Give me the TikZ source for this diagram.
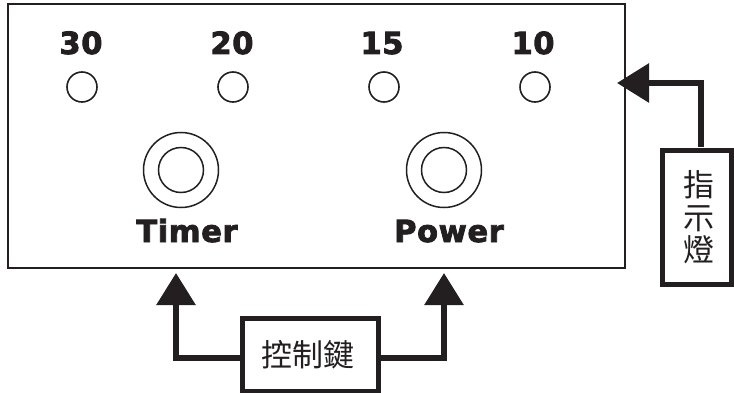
\documentclass[tikz,border=0pt]{standalone}
\usepackage{fontspec}
\setmainfont{DejaVu Sans}
\newfontfamily\cjkfont{Noto Sans CJK TC}
\newfontfamily\lblfont[LetterSpace=2,FakeBold=2.6]{DejaVu Sans Bold}
\usetikzlibrary{arrows.meta}
\definecolor{ink}{HTML}{231F20}
\tikzset{
  panel/.style={draw=ink,line width=2pt,minimum width=617pt,minimum height=264pt,inner sep=0pt,outer sep=0pt},
  lamp/.style={circle,draw=ink,line width=1.6pt,minimum size=30pt,inner sep=0pt,outer sep=0pt},
  knobout/.style={circle,draw=ink,line width=1.5pt,minimum size=75pt,inner sep=0pt,outer sep=0pt},
  knobin/.style={circle,draw=ink,line width=1.5pt,minimum size=45pt,inner sep=0pt,outer sep=0pt},
  numlabel/.style={anchor=base,inner sep=0pt,text=ink,font=\lblfont\fontsize{30.5}{30}\selectfont},
  calloutbox/.style={draw=ink,line width=4.5pt,inner sep=0pt,outer sep=0pt,align=center,text=ink,font=\cjkfont\fontsize{31}{32.5}\selectfont},
  link/.style={draw=ink,line width=6pt,-{Triangle[length=32pt,width=38pt,color=ink]}},
}
\begin{document}
\begin{tikzpicture}[x=1pt,y=-1pt]
\useasboundingbox (0,0) rectangle (734,393);
\node[panel] (front) at (316.5,136) {};
\node[numlabel] (n30) at (81,54) {30};
\node[numlabel] (n20) at (232,54) {20};
\node[numlabel] (n15) at (382,54) {15};
\node[numlabel] (n10) at (533,54) {10};
\node[lamp] (l30) at (82,87) {};
\node[lamp] (l20) at (233,87) {};
\node[lamp] (l15) at (384,87) {};
\node[lamp] (l10) at (535,87) {};
\node[knobout] (timerout) at (181,170) {};
\node[knobin] (timerin) at (181,170) {};
\node[knobout] (powerout) at (444,170) {};
\node[knobin] (powerin) at (444,170) {};
\node[numlabel] (timer) at (187,242) {Timer};
\node[numlabel] (power) at (449,242) {Power};
\node[calloutbox,minimum width=136pt,minimum height=73pt] (keys) at (310.5,355) {控制鍵\kern5pt};
\node[calloutbox,minimum width=69pt,minimum height=134pt] (ind) at (697,217.5) {\kern4pt指\\\kern4pt示\\\kern4pt燈};
\coordinate (tiptimer) at (176,273);
\coordinate (tippower) at (444,273);
\coordinate (tipind) at (617,83);
\draw[link] (keys.west |- 0,358) -- (176,358) -- (tiptimer);
\draw[link] (keys.east |- 0,358) -- (444,358) -- (tippower);
\draw[link] (700.5,147) -- (700.5,83) -- (tipind);
\end{tikzpicture}
\end{document}
